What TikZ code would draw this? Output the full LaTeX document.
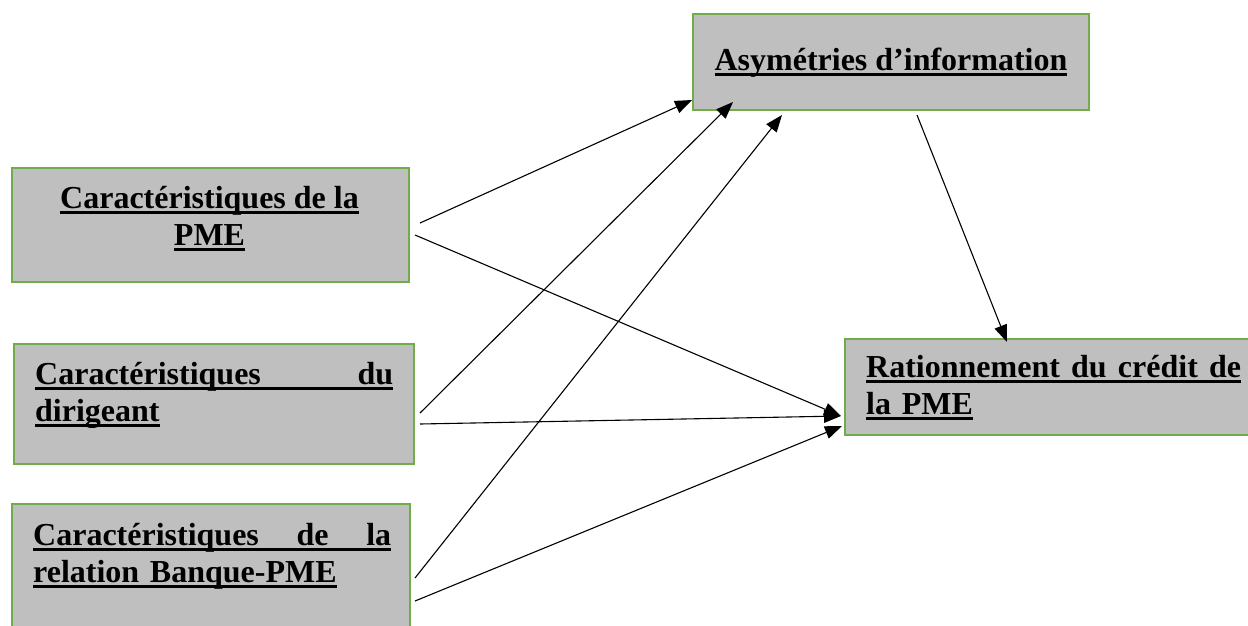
\documentclass[tikz,border=0pt]{standalone}
\usepackage{fontspec}
\setmainfont{Liberation Serif}
\usetikzlibrary{arrows.meta}
\definecolor{boxgreen}{HTML}{70AD47}
\definecolor{boxgray}{HTML}{BFBFBF}
\newcommand{\undl}[1]{\leavevmode\setbox0=\hbox{#1}\rlap{\rule[-5.7pt]{\wd0}{3.6pt}}\box0}
\newcommand{\undlw}[2]{\undl{\makebox[#1]{#2}}}

\begin{document}
\begin{tikzpicture}[x=1pt,y=-1pt,
    facteur/.style={draw=boxgreen,line width=2pt,fill=boxgray,anchor=north west,inner sep=0pt},
    texte/.style={anchor=north west,inner sep=0pt,align=left,font=\bfseries\fontsize{32}{37}\selectfont},
    fleche/.style={-{Triangle[length=17pt,width=13pt]},line width=1.1pt}]
  \useasboundingbox (0,0) rectangle (1248,625);
  \clip (0,0) rectangle (1248,625);

  % boites
  \node[facteur,minimum width=397pt,minimum height=114pt] (pme) at (11,167) {};
  \node[facteur,minimum width=400pt,minimum height=120pt] (dir) at (13,343) {};
  \node[facteur,minimum width=398pt,minimum height=130pt] (rel) at (11,503) {};
  \node[facteur,minimum width=396pt,minimum height=96pt] (asym) at (692,13) {};
  \node[facteur,minimum width=420pt,minimum height=96pt] (rat) at (844,338) {};

  % textes
  \node[texte,align=center,anchor=north] (pmetxt) at ([shift={(-1,19)}]pme.north) {\undl{Caractéristiques de la}\\\undl{PME}};
  \node[texte,text width=358pt] (dirtxt) at ([shift={(22,19)}]dir.north west) {\undlw{358pt}{Caractéristiques\hfill du}\\\undl{dirigeant}};
  \node[texte,text width=358pt] (reltxt) at ([shift={(22,20)}]rel.north west) {\undlw{358pt}{Caractéristiques\hfill de\hfill la}\\\undl{relation Banque-PME}};
  \node[texte,align=center,anchor=north] (asymtxt) at ([shift={(0,35)}]asym.north) {\undl{Asymétries d’information}};
  \node[texte,text width=375pt] (rattxt) at ([shift={(22,17)}]rat.north west) {\undlw{375pt}{Rationnement\hfill du\hfill crédit\hfill de}\\\undl{la PME}};

  % fleches
  \draw[fleche] ([shift={(10,-2)}]pme.east) -- ([shift={(0,-11)}]asym.south west);
  \draw[fleche] ([shift={(5,10)}]pme.east) -- ([shift={(-3,29)}]rat.west);
  \draw[fleche] ([shift={(5,9)}]dir.east) -- ([shift={(41,-9)}]asym.south west);
  \draw[fleche] ([shift={(5,20)}]dir.east) -- ([shift={(-3,29)}]rat.west);
  \draw[fleche] ([shift={(4,9)}]rel.east) -- ([shift={(90,4)}]asym.south west);
  \draw[fleche] ([shift={(4,32)}]rel.east) -- ([shift={(-2,39)}]rat.west);
  \draw[fleche] ([shift={(26,4)}]asym.south) -- ([shift={(163,4)}]rat.north west);
\end{tikzpicture}
\end{document}
